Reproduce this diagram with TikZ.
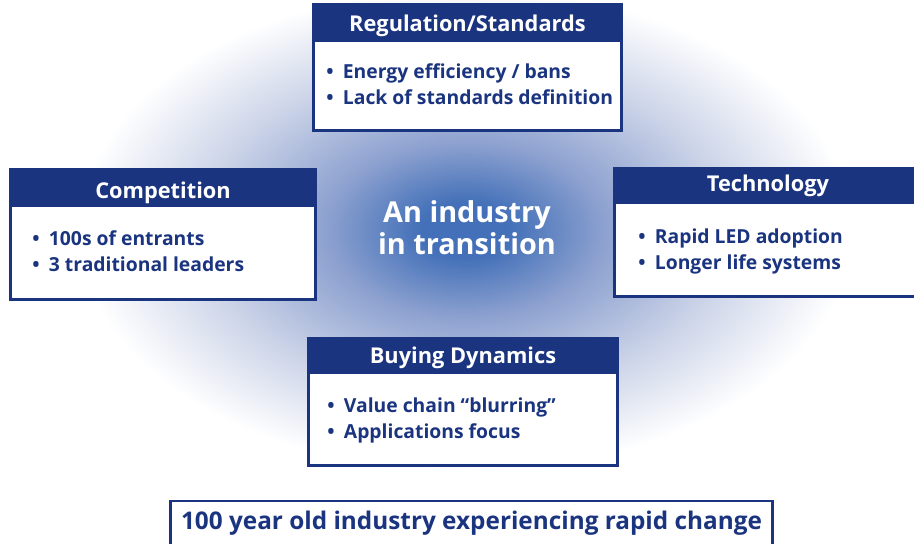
\documentclass[tikz,border=0pt]{standalone}
\usepackage{fontspec}
\setmainfont{Open Sans}
\usepackage{tikz}
\usetikzlibrary{positioning}
\usepackage{xcolor}
\definecolor{genavy}{HTML}{1A3480}
\definecolor{glowcore}{HTML}{4370B8}
\definecolor{glowmid}{HTML}{8EA2D0}
\definecolor{glowpale}{HTML}{CCD4E8}
\pgfdeclareradialshading{glow}{\pgfpoint{0bp}{0bp}}{color(0bp)=(glowcore); color(2.5bp)=(glowcore); color(8bp)=(glowmid); color(15bp)=(glowpale); color(22bp)=(white); color(25bp)=(white); color(50bp)=(white)}

\begin{document}
\begin{tikzpicture}[
  x=0.02cm, y=-0.02cm,
  panel/.style={draw=genavy, line width=1.7pt, fill=white, inner sep=0pt},
  panelhead/.style={fill=genavy, text=white, anchor=north,
    font=\bfseries\fontsize{12.4}{14}\selectfont, text depth=0pt,
    inner sep=0pt},
  bullets/.style={text=genavy, anchor=north west, align=left, inner sep=0pt,
    font=\bfseries\fontsize{11}{14.8}\selectfont}
]
  \useasboundingbox (0,0) rectangle (914,544);

  % Glow behind the centre
  \shade[shading=glow] (465,230) ellipse [x radius=8.8cm, y radius=5.5cm];
  \node[text=white, align=center, font=\bfseries\fontsize{16.4}{18.2}\selectfont]
    (core) at (467,228) {An industry\\in transition};

  % Regulation
  \node[panel, minimum width=6.16cm, minimum height=2.52cm] (reg) at (467.5,67.5) {};
  \node[panelhead, minimum width=6.16cm, minimum height=0.77cm, text height=10.5pt]
    (regHead) at (reg.north) {Regulation/Standards};
  \node[bullets] (regList) at (326,63)
    {\textbullet\hspace{5.3pt}Energy efficiency / bans\\
     \textbullet\hspace{5.3pt}Lack of standards definition};

  % Competition
  \node[panel, minimum width=6.1cm, minimum height=2.6cm] (comp) at (163,234.5) {};
  \node[panelhead, minimum width=6.1cm, minimum height=0.77cm, text height=12.8pt]
    (compHead) at (comp.north) {Competition};
  \node[bullets] (compList) at (32,230)
    {\textbullet\hspace{5.3pt}100s of entrants\\
     \textbullet\hspace{5.3pt}3 traditional leaders};

  % Technology
  \node[panel, minimum width=6.14cm, minimum height=2.56cm] (tech) at (768,232.5) {};
  \node[panelhead, minimum width=6.14cm, minimum height=0.73cm, text height=7.1pt]
    (techHead) at (tech.north) {Technology};
  \node[bullets] (techList) at (638,228)
    {\textbullet\hspace{5.3pt}Rapid LED adoption\\
     \textbullet\hspace{5.3pt}Longer life systems};

  % Buying dynamics
  \node[panel, minimum width=6.18cm, minimum height=2.54cm] (buy) at (463,402) {};
  \node[panelhead, minimum width=6.18cm, minimum height=0.73cm, text height=9.4pt]
    (buyHead) at (buy.north) {Buying Dynamics};
  \node[bullets] (buyList) at (327,397)
    {\textbullet\hspace{5.3pt}Value chain ``blurring''\\
     \textbullet\hspace{5.3pt}Applications focus};

  % Summary line
  \node[draw=genavy, line width=1.5pt, fill=white, text=genavy,
    minimum width=12.04cm, minimum height=0.98cm, inner sep=0pt,
    text height=10pt, text depth=4.9pt,
    font=\bfseries\fontsize{13.85}{15}\selectfont]
    (summary) at (471.5,525.5) {100 year old industry experiencing rapid change};
\end{tikzpicture}
\end{document}
